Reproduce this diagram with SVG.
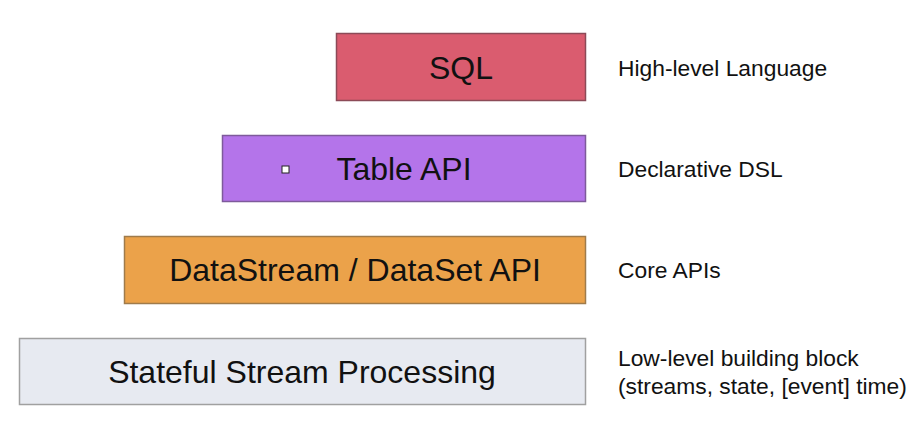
<svg xmlns="http://www.w3.org/2000/svg" width="918" height="435" viewBox="0 0 918 435">
<style>
.box{stroke-width:1.5}
.t{font-family:"Liberation Sans",Arial,sans-serif;font-size:32px;fill:#111;text-anchor:middle}
.l{font-family:"Liberation Sans",Arial,sans-serif;font-size:22.8px;fill:#111}
</style>
<rect width="918" height="435" fill="#ffffff"/>
<g id="sql">
<rect class="box" x="336.5" y="33.5" width="249" height="67" fill="#da5c6f" stroke="#8c4a57"/>
<text class="t" x="461" y="79">SQL</text>
</g>
<g id="table-api">
<rect class="box" x="222.5" y="135.5" width="363" height="66" fill="#b474ea" stroke="#7e5a9b"/>
<rect x="282" y="166" width="7" height="7" fill="#ffffff" stroke="#222" stroke-width="1"/>
<text class="t" x="404" y="180">Table API</text>
</g>
<g id="datastream">
<rect class="box" x="124.5" y="236.5" width="461" height="67" fill="#eba24a" stroke="#9f7b4b"/>
<text class="t" x="355" y="281">DataStream / DataSet API</text>
</g>
<g id="stateful">
<rect class="box" x="19.5" y="338.5" width="566" height="66" fill="#e7eaf1" stroke="#a0a0a0"/>
<text class="t" x="302" y="383">Stateful Stream Processing</text>
</g>
<g id="labels">
<text class="l" x="618" y="76">High-level Language</text>
<text class="l" x="618" y="177">Declarative DSL</text>
<text class="l" x="618" y="278">Core APIs</text>
<text class="l" x="618" y="366">Low-level building block</text>
<text class="l" x="618" y="394">(streams, state, [event] time)</text>
</g>
<g id="connectors"></g>
</svg>
